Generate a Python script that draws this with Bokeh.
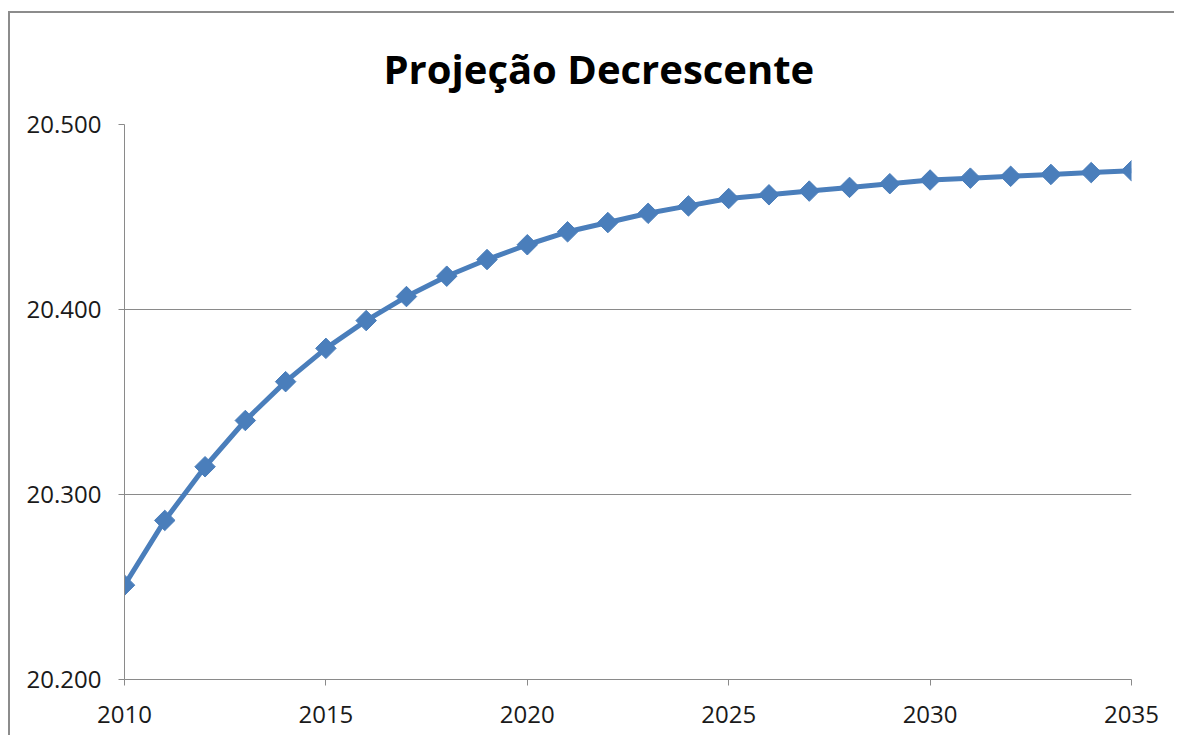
import math
from bokeh.plotting import figure
from bokeh.models import FixedTicker, Range1d, ColumnDataSource
from bokeh.embed import file_html
from bokeh.resources import INLINE

title_text = "Projeção Decrescente"
years = list(range(2010, 2036))
values = [20251, 20286, 20315, 20340, 20361, 20379, 20394, 20407, 20418, 20427,
          20435, 20442, 20447, 20452, 20456, 20460, 20462, 20464, 20466, 20468,
          20470, 20471, 20472, 20473, 20474, 20475]
x_ticks = [2010, 2015, 2020, 2025, 2030, 2035]
y_ticks = [20200, 20300, 20400, 20500]
y_tick_labels = ["20.200", "20.300", "20.400", "20.500"]

BLUE = "#4A7EBB"
GRID = "#8A8A8A"
FONT = "Open Sans"

src = ColumnDataSource(dict(x=years, y=values))

W, H = 1166, 724
p = figure(width=W, height=H, output_backend="svg", toolbar_location=None,
           x_range=Range1d(2010, 2035), y_range=Range1d(20200, 20500),
           min_border_left=114, min_border_right=45, min_border_top=110,
           min_border_bottom=58)
p.styles = {"border-top": "2px solid #8C8C8C", "border-left": "2px solid #8C8C8C",
            "margin-top": "11px", "margin-left": "8px"}

p.title.text = title_text
p.title.text_font = FONT
p.title.text_font_style = "bold"
p.title.text_font_size = "40px"
p.title.align = "left"
p.title.offset = 259
p.title.vertical_align = "top"
p.title.standoff = 54
p.title.text_color = "#000000"

p.outline_line_color = None
p.background_fill_color = "white"
p.border_fill_color = "white"

p.xgrid.grid_line_color = None
p.ygrid.grid_line_color = GRID
p.ygrid.grid_line_width = 1
p.ygrid.ticker = FixedTicker(ticks=y_ticks)

p.xaxis.ticker = FixedTicker(ticks=x_ticks)
p.yaxis.ticker = FixedTicker(ticks=y_ticks)
p.yaxis.major_label_overrides = {t: l for t, l in zip(y_ticks, y_tick_labels)}

for ax in (p.xaxis[0], p.yaxis[0]):
    ax.axis_line_color = GRID
    ax.axis_line_width = 1
    ax.major_tick_line_color = GRID
    ax.major_tick_out = 6
    ax.major_tick_in = 0
    ax.minor_tick_line_color = None
    ax.major_label_text_font = FONT
    ax.major_label_text_font_size = "24px"
    ax.major_label_text_color = "#1a1a1a"
p.xaxis.major_label_standoff = 20
p.yaxis.major_label_standoff = 17

p.line("x", "y", source=src, line_color=BLUE, line_width=5)
p.scatter("x", "y", source=src, marker="square", size=14.5, angle=math.pi / 4,
          fill_color=BLUE, line_color=BLUE)

open("out.html", "w").write(file_html(p, INLINE))
